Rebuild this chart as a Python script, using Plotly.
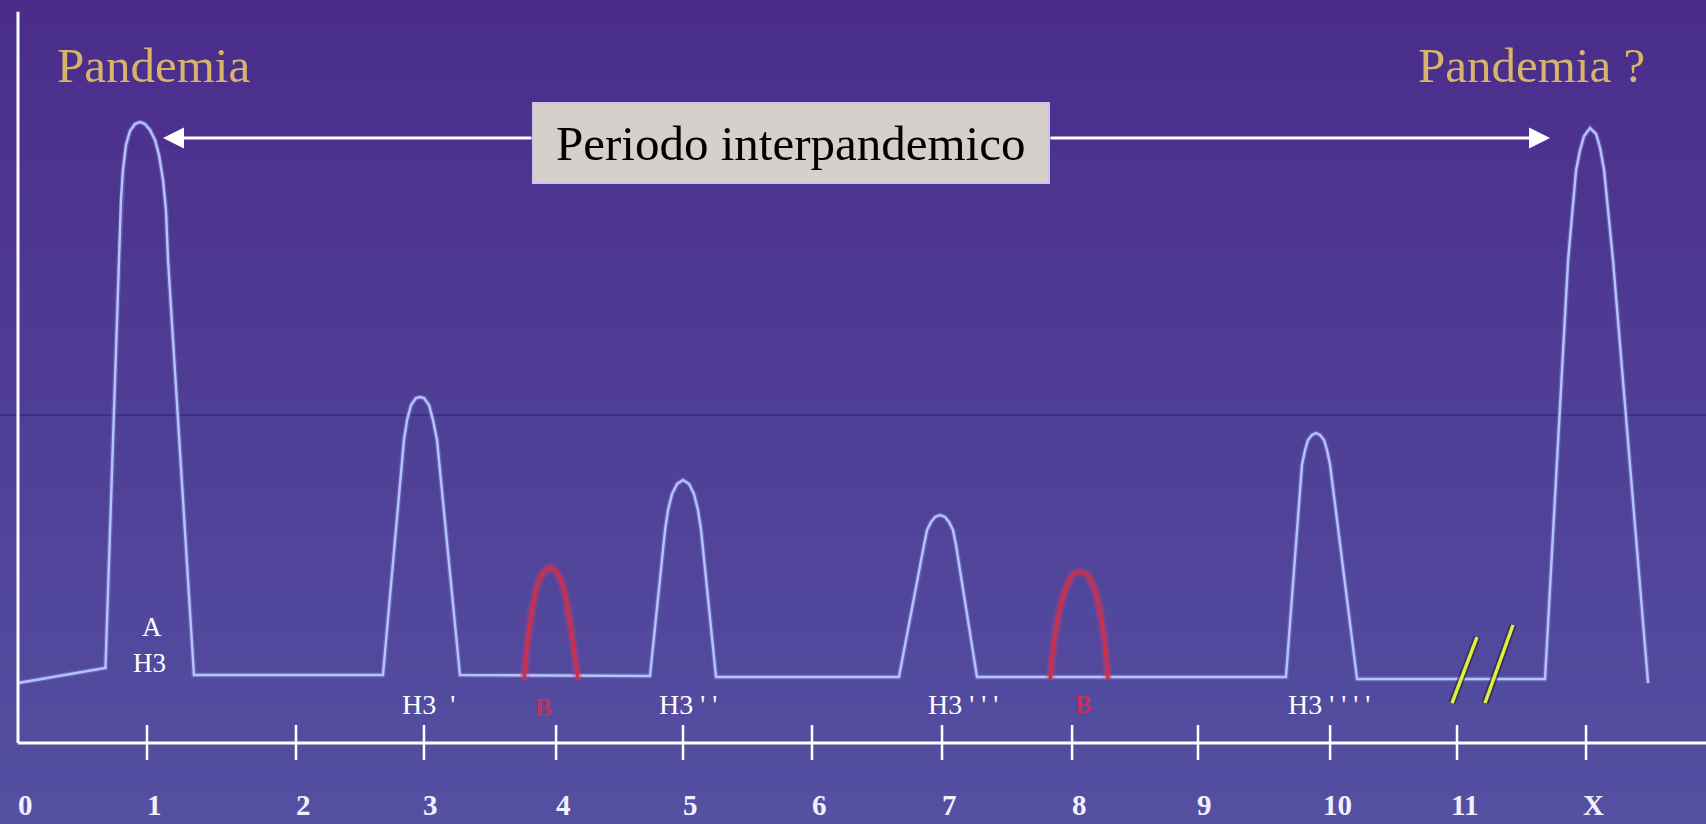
import plotly.graph_objects as go

# ---------------- data ----------------
year_labels = ["0", "1", "2", "3", "4", "5", "6", "7", "8", "9", "10", "11", "X"]
year_pos = [0.0, 1.0, 2.155, 3.147, 4.171, 5.155, 6.155, 7.163, 8.171, 9.147, 10.171, 11.155, 12.155]

# influenza A activity curve (year, relative incidence)
curve_year = [0.000, 0.678, 0.783, 0.798, 0.814, 0.837, 0.868, 0.907, 0.946, 0.984, 1.023, 1.062,
              1.093, 1.124, 1.147, 1.163, 1.364,
              2.829, 2.992, 3.016, 3.047, 3.085, 3.116, 3.147, 3.186, 3.217, 3.248, 3.426,
              4.899, 5.016, 5.039, 5.070, 5.109, 5.155, 5.202, 5.240, 5.271, 5.295, 5.411,
              6.829, 7.023, 7.047, 7.078, 7.109, 7.147, 7.186, 7.217, 7.248, 7.271, 7.434,
              9.829, 9.953, 9.977, 10.000, 10.031, 10.062, 10.093, 10.124, 10.147, 10.171, 10.380,
              11.837, 12.016, 12.054, 12.078, 12.109, 12.140, 12.186, 12.233, 12.264, 12.295,
              12.318, 12.364, 12.636]
curve_level = [8.25, 10.32, 66.44, 74.69, 78.82, 82.26, 84.18, 85.14, 85.42, 85.14, 84.32, 82.94,
               80.88, 77.44, 73.31, 66.44, 9.35,
               9.35, 41.68, 44.43, 46.49, 47.46, 47.59, 47.46, 46.49, 44.43, 41.68, 9.35,
               9.22, 29.30, 32.05, 34.25, 35.63, 36.18, 35.63, 34.25, 32.05, 29.30, 9.08,
               9.08, 27.24, 29.30, 30.40, 31.09, 31.36, 31.09, 30.40, 29.30, 27.24, 9.08,
               9.08, 38.24, 40.30, 41.68, 42.36, 42.64, 42.36, 41.68, 40.30, 38.24, 8.80,
               8.80, 66.44, 74.69, 78.82, 81.57, 83.49, 84.59, 83.77, 81.84, 78.82,
               74.69, 66.44, 8.25]

# influenza B epidemics
b1_year = [3.922, 3.969, 4.031, 4.078, 4.124, 4.171, 4.217, 4.279, 4.341]
b1_level = [8.67, 16.51, 22.01, 23.52, 24.07, 23.52, 22.01, 16.51, 8.67]
b2_year = [8.000, 8.054, 8.132, 8.178, 8.233, 8.287, 8.333, 8.403, 8.450]
b2_level = [8.67, 16.51, 21.73, 23.11, 23.52, 23.11, 21.73, 16.51, 8.67]

# axis-break slashes
slash1_year = [11.116, 11.310]
slash1_level = [5.5, 14.58]
slash2_year = [11.372, 11.589]
slash2_level = [5.5, 16.23]

# ---------------- figure ----------------
SERIF = "Liberation Serif, Times New Roman, serif"
fig = go.Figure()

# main curve (soft glow + core)
fig.add_trace(go.Scatter(x=curve_year, y=curve_level, mode="lines",
                         line=dict(color="rgba(120,130,220,0.45)", width=5),
                         hoverinfo="skip", showlegend=False))
fig.add_trace(go.Scatter(x=curve_year, y=curve_level, mode="lines",
                         line=dict(color="rgb(184,194,250)", width=2.4),
                         showlegend=False))

# B curves
for bx, by in [(b1_year, b1_level), (b2_year, b2_level)]:
    fig.add_trace(go.Scatter(x=bx, y=by, mode="lines", line_shape="spline",
                             line=dict(color="rgba(200,60,110,0.35)", width=9),
                             hoverinfo="skip", showlegend=False))
    fig.add_trace(go.Scatter(x=bx, y=by, mode="lines", line_shape="spline",
                             line=dict(color="rgb(205,48,72)", width=3.5),
                             showlegend=False))

# slashes
for sx, sy in [(slash1_year, slash1_level), (slash2_year, slash2_level)]:
    fig.add_trace(go.Scatter(x=sx, y=sy, mode="lines",
                             line=dict(color="rgba(40,40,70,0.7)", width=7),
                             hoverinfo="skip", showlegend=False))
    fig.add_trace(go.Scatter(x=sx, y=sy, mode="lines",
                             line=dict(color="rgb(225,238,60)", width=3.5),
                             showlegend=False))

shapes = []
# background gradient
nb = 60
top = (74, 44, 138)
bot = (84, 80, 162)
for i in range(nb):
    t = (i + 0.5) / nb
    c = tuple(int(round(top[k] + (bot[k] - top[k]) * t)) for k in range(3))
    shapes.append(dict(type="rect", xref="paper", yref="paper", x0=0, x1=1,
                       y0=1 - (i + 1) / nb, y1=1 - i / nb + 0.002,
                       fillcolor="rgb(%d,%d,%d)" % c, line=dict(width=0), layer="below"))
# thin dark scan line
shapes.append(dict(type="line", xref="paper", yref="y", x0=0, x1=1, y0=45.1, y1=45.1,
                   line=dict(color="rgb(38,38,135)", width=1), layer="below"))
# axes
shapes.append(dict(type="line", xref="x", yref="y", x0=0, x1=0, y0=0, y1=100.6,
                   line=dict(color="white", width=3)))
shapes.append(dict(type="line", xref="x", yref="y", x0=0, x1=13.2, y0=0, y1=0,
                   line=dict(color="white", width=3)))
# tick marks
for p in year_pos[1:]:
    shapes.append(dict(type="line", xref="x", yref="y", x0=p, x1=p, y0=2.48, y1=-2.34,
                       line=dict(color="white", width=2.5)))
# label box
shapes.append(dict(type="rect", xref="x", yref="y", x0=3.992, x1=7.992, y0=77.03, y1=88.03,
                   fillcolor="rgb(214,208,205)", line=dict(color="rgb(205,195,238)", width=2)))

annotations = []
for lab, p in zip(year_labels, year_pos):
    annotations.append(dict(x=p, y=-8.5, xref="x", yref="y", text="<b>%s</b>" % lab,
                            showarrow=False, xshift=7, xanchor="center", yanchor="middle",
                            font=dict(family=SERIF, size=29, color="rgb(240,240,255)")))

gold = "rgb(216,180,104)"
annotations += [
    dict(x=1.054, y=93.26, text="Pandemia", showarrow=False,
         font=dict(family=SERIF, size=49, color=gold)),
    dict(x=11.736, y=93.26, text="Pandemia ?", showarrow=False,
         font=dict(family=SERIF, size=49, color=gold)),
    dict(x=5.992, y=82.53, text="Periodo interpandemico", showarrow=False,
         font=dict(family=SERIF, size=49, color="black")),
    dict(x=1.124, y=83.22, ax=3.992, ay=83.22, axref="x", ayref="y", text="",
         showarrow=True, arrowhead=2, arrowsize=1.4, arrowwidth=3, arrowcolor="white",
         standoff=0, startstandoff=0),
    dict(x=11.876, y=83.22, ax=7.992, ay=83.22, axref="x", ayref="y", text="",
         showarrow=True, arrowhead=2, arrowsize=1.4, arrowwidth=3, arrowcolor="white",
         standoff=0, startstandoff=0),
    dict(x=1.039, y=15.96, text="A", showarrow=False,
         font=dict(family=SERIF, size=27, color="white")),
    dict(x=1.023, y=11.0, text="H3", showarrow=False,
         font=dict(family=SERIF, size=27, color="white")),
    dict(x=2.961, y=5.23, text="H3&nbsp;&nbsp;'", showarrow=False, xanchor="left",
         font=dict(family=SERIF, size=28, color="white")),
    dict(x=4.953, y=5.23, text="H3 ' '", showarrow=False, xanchor="left",
         font=dict(family=SERIF, size=28, color="white")),
    dict(x=7.039, y=5.23, text="H3 ' ' '", showarrow=False, xanchor="left",
         font=dict(family=SERIF, size=28, color="white")),
    dict(x=9.829, y=5.23, text="H3 ' ' ' '", showarrow=False, xanchor="left",
         font=dict(family=SERIF, size=28, color="white")),
    dict(x=4.07, y=4.95, text="<b>B</b>", showarrow=False,
         font=dict(family=SERIF, size=25, color="rgba(215,45,80,0.85)")),
    dict(x=8.256, y=5.23, text="<b>B</b>", showarrow=False,
         font=dict(family=SERIF, size=25, color="rgba(215,45,80,0.85)")),
]
for a in annotations:
    a.setdefault("xref", "x")
    a.setdefault("yref", "y")

fig.update_layout(
    width=1706, height=824, autosize=False,
    margin=dict(l=0, r=0, t=0, b=0, pad=0),
    paper_bgcolor="rgb(78,62,150)", plot_bgcolor="rgba(0,0,0,0)",
    xaxis=dict(range=[-0.1395, 13.085], visible=False, fixedrange=True),
    yaxis=dict(range=[-11.14, 102.2], visible=False, fixedrange=True),
    shapes=shapes, annotations=annotations, showlegend=False,
)

fig.write_html(
    "out.html",
    config={"displayModeBar": False},
    post_script="document.body.style.margin='0';document.body.style.overflow='hidden';"
                "document.body.style.background='rgb(84,80,162)';",
)
